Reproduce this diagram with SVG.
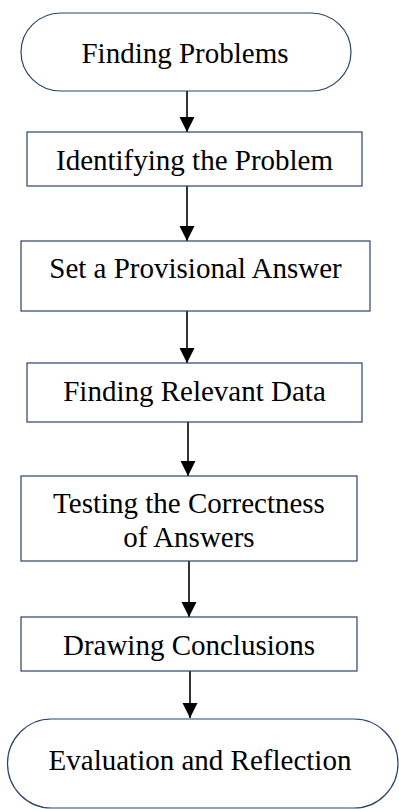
<svg xmlns="http://www.w3.org/2000/svg" width="399" height="809" viewBox="0 0 399 809">
<defs>
<style>
.shape{fill:#ffffff;stroke:#2B4468;stroke-width:1.2}
.lbl{font-family:"Liberation Serif","Times New Roman",serif;font-size:29px;fill:#000;text-anchor:middle}
.conn{stroke:#000;stroke-width:1.6;fill:none;marker-end:url(#ah)}
</style>
<marker id="ah" markerUnits="userSpaceOnUse" markerWidth="16" markerHeight="16" viewBox="0 0 16 16" refX="15" refY="8" orient="auto">
<path d="M0,0.5 L15,8 L0,15.5 Z" fill="#000"/>
</marker>
</defs>
<rect width="399" height="809" fill="#fff"/>
<g id="connectors">
<line class="conn" x1="187" y1="91" x2="187" y2="132"/>
<line class="conn" x1="187" y1="186" x2="187" y2="241"/>
<line class="conn" x1="187" y1="311" x2="187" y2="363"/>
<line class="conn" x1="188" y1="422" x2="188" y2="476"/>
<line class="conn" x1="189" y1="561" x2="189" y2="617"/>
<line class="conn" x1="190" y1="671" x2="190" y2="718"/>
</g>
<g id="n1">
<rect class="shape" x="21" y="13" width="330" height="78" rx="40" ry="39"/>
<text class="lbl" x="185" y="63">Finding Problems</text>
</g>
<g id="n2">
<rect class="shape" x="27" y="132" width="335" height="54"/>
<text class="lbl" x="194.5" y="170">Identifying the Problem</text>
</g>
<g id="n3">
<rect class="shape" x="21" y="241" width="349" height="70"/>
<text class="lbl" x="195.5" y="278">Set a Provisional Answer</text>
</g>
<g id="n4">
<rect class="shape" x="27" y="363" width="335" height="59"/>
<text class="lbl" x="194.5" y="401">Finding Relevant Data</text>
</g>
<g id="n5">
<rect class="shape" x="21" y="476" width="336" height="85"/>
<text class="lbl" x="189" y="513">Testing the Correctness</text>
<text class="lbl" x="189" y="547">of Answers</text>
</g>
<g id="n6">
<rect class="shape" x="21" y="617" width="336" height="54"/>
<text class="lbl" x="189" y="655">Drawing Conclusions</text>
</g>
<g id="n7">
<rect class="shape" x="7.5" y="719" width="390.5" height="89" rx="44" ry="44.5"/>
<text class="lbl" x="200" y="770">Evaluation and Reflection</text>
</g>
</svg>
